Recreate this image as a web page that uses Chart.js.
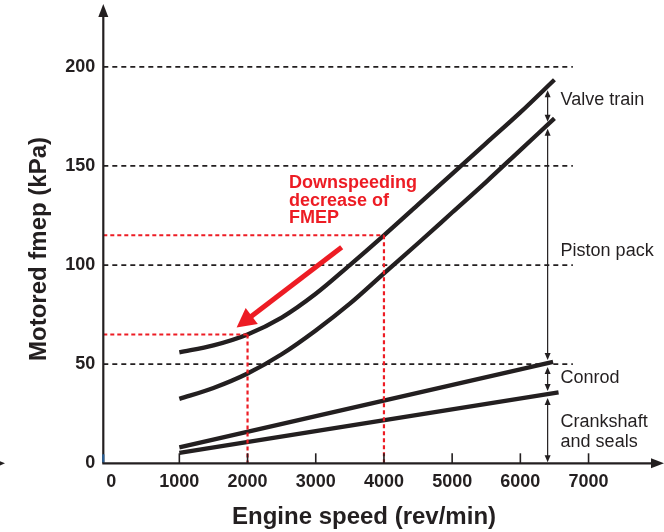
<!DOCTYPE html>
<html><head><meta charset="utf-8">
<style>html,body{margin:0;padding:0;background:#fff;}#wrap{width:664px;height:532px;}</style>
<script src="https://cdn.jsdelivr.net/npm/chart.js@4/dist/chart.umd.min.js"></script>
</head><body><div id="wrap"><canvas id="c" width="664" height="532"></canvas></div>
<script>
// ---- data ----
const rpm = [1000,1500,2000,2500,3000,3500,4000,4500,5000,5500,6000,6500];
const totalFmep = [56,59.5,65,73.5,85.5,100,115,130.5,146,161.5,177,193.5];
const withoutValveTrain = [32.5,38,45.3,55,67,80.5,95.8,111,126.5,142,158,174];
const conrodRpm = [1000,6480];
const conrodFmep = [8,51.2];
const crankRpm = [1000,6560];
const crankFmep = [5.3,35.8];
const xTicks = [0,1000,2000,3000,4000,5000,6000,7000];
const yTicks = [0,50,100,150,200];
const gridLevels = [50,100,150,200];
const downspeedRpm = [2000,4000];
const downspeedFmep = [65,115];
const componentLabels = ['Valve train','Piston pack','Conrod','Crankshaft','and seals'];
const componentLabelLevels = [180.8,104.6,40.4,18.5,8.4];
const annotationLines = ['Downspeeding','decrease of','FMEP'];

// ---- layout constants ----
const X_MIN = -115, X_MAX = 7530, Y_MIN = 0, Y_MAX = 216.2;
const GRID_END = 6770, ARROW_RPM = 6400, LABEL_RPM = 6590;
const NOTE_RPM = 2608, NOTE_LEVEL = 138.7;
const RED_FROM = [3380,109], RED_TO = [1840,68.5];
const BLACK = '#231f20', RED = '#ed1c24';
const FONT = "'Liberation Sans', Arial, Helvetica, sans-serif";
Chart.defaults.font.family = FONT;

function interp(xs, ys, v){
  for (let i=0;i<xs.length-1;i++){
    if (v>=xs[i] && v<=xs[i+1]) return ys[i]+(ys[i+1]-ys[i])*(v-xs[i])/(xs[i+1]-xs[i]);
  }
  return v<xs[0]?ys[0]:ys[ys.length-1];
}
const pts = (xs, ys) => xs.map((x,i)=>({x, y: ys[i]}));

const datasets = [];
const curve = (data) => ({data, borderColor:BLACK, borderWidth:4.3, pointRadius:0, fill:false,
  cubicInterpolationMode:'monotone', borderCapStyle:'butt', borderJoinStyle:'round', order:1});
datasets.push(curve(pts(rpm,totalFmep)));
datasets.push(curve(pts(rpm,withoutValveTrain)));
datasets.push(curve(pts(conrodRpm,conrodFmep)));
datasets.push(curve(pts(crankRpm,crankFmep)));
gridLevels.forEach(l => datasets.push({data:[{x:X_MIN,y:l},{x:GRID_END,y:l}], borderColor:BLACK,
  borderWidth:1.8, borderDash:[5,4], pointRadius:0, order:3}));
downspeedRpm.forEach((r,i) => {
  const f = downspeedFmep[i];
  datasets.push({data:[{x:X_MIN,y:f},{x:r,y:f}], borderColor:RED, borderWidth:2, borderDash:[4,3], pointRadius:0, order:0});
  datasets.push({data:[{x:r,y:f},{x:r,y:0}], borderColor:RED, borderWidth:2.2, borderDash:[4,3], pointRadius:0, order:0});
});

function head(ctx, tx, ty, ang, len, hw){
  ctx.beginPath();
  ctx.moveTo(tx,ty);
  ctx.lineTo(tx - len*Math.cos(ang) + hw*Math.sin(ang), ty - len*Math.sin(ang) - hw*Math.cos(ang));
  ctx.lineTo(tx - len*Math.cos(ang) - hw*Math.sin(ang), ty - len*Math.sin(ang) + hw*Math.cos(ang));
  ctx.closePath(); ctx.fill();
}

const deco = {
  id:'deco',
  afterDraw(chart){
    const {ctx, scales:{x,y}, chartArea:ca} = chart;
    ctx.save();
    ctx.strokeStyle = BLACK; ctx.fillStyle = BLACK;
    // x-axis ticks (inward)
    ctx.lineWidth = 1.6;
    xTicks.forEach(v => { if (v===0) return; const px = x.getPixelForValue(v);
      ctx.beginPath(); ctx.moveTo(px, ca.bottom); ctx.lineTo(px, ca.bottom-10); ctx.stroke(); });
    // axes
    ctx.lineWidth = 2.2;
    ctx.beginPath(); ctx.moveTo(ca.left, ca.bottom); ctx.lineTo(ca.left, 16); ctx.stroke();
    head(ctx, ca.left, 4, -Math.PI/2, 13, 5);
    ctx.beginPath(); ctx.moveTo(ca.left-1, ca.bottom); ctx.lineTo(652, ca.bottom); ctx.stroke();
    head(ctx, 664, ca.bottom, 0, 13, 5);
    // small blue mark at origin
    ctx.strokeStyle = '#2a5f96'; ctx.beginPath(); ctx.moveTo(ca.left, ca.bottom-9); ctx.lineTo(ca.left, ca.bottom-1); ctx.stroke();
    // stray arrowhead at far left
    ctx.fillStyle = BLACK; head(ctx, 5, ca.bottom, 0, 6, 2.5);
    // component double arrows
    const levels = [interp(rpm,totalFmep,ARROW_RPM), interp(rpm,withoutValveTrain,ARROW_RPM),
      interp(conrodRpm,conrodFmep,ARROW_RPM), interp(crankRpm,crankFmep,ARROW_RPM), 0];
    const ax = x.getPixelForValue(ARROW_RPM);
    ctx.strokeStyle = BLACK; ctx.lineWidth = 1.2;
    for (let i=0;i<levels.length-1;i++){
      const y1 = y.getPixelForValue(levels[i]) + 4;
      const y2 = y.getPixelForValue(levels[i+1]) - (i===levels.length-2 ? 1 : 3);
      ctx.beginPath(); ctx.moveTo(ax, y1+5); ctx.lineTo(ax, y2-5); ctx.stroke();
      head(ctx, ax, y1, -Math.PI/2, 7, 3);
      head(ctx, ax, y2, Math.PI/2, 7, 3);
    }
    // component labels
    ctx.font = '18px ' + FONT; ctx.textAlign = 'left'; ctx.textBaseline = 'alphabetic';
    const lx = x.getPixelForValue(LABEL_RPM);
    componentLabels.forEach((t,i) => ctx.fillText(t, lx, y.getPixelForValue(componentLabelLevels[i])));
    // red annotation arrow
    ctx.strokeStyle = RED; ctx.fillStyle = RED;
    const sx = x.getPixelForValue(RED_FROM[0]), sy = y.getPixelForValue(RED_FROM[1]);
    const tx = x.getPixelForValue(RED_TO[0]), ty = y.getPixelForValue(RED_TO[1]);
    const ang = Math.atan2(ty-sy, tx-sx);
    const hl = 19;
    ctx.lineWidth = 5; ctx.lineCap = 'butt';
    ctx.beginPath(); ctx.moveTo(sx, sy); ctx.lineTo(tx - (hl-2)*Math.cos(ang), ty - (hl-2)*Math.sin(ang)); ctx.stroke();
    head(ctx, tx, ty, ang, hl, 10);
    // red annotation text
    ctx.font = 'bold 18px ' + FONT;
    const nx = x.getPixelForValue(NOTE_RPM), ny = y.getPixelForValue(NOTE_LEVEL);
    annotationLines.forEach((t,i) => ctx.fillText(t, nx, ny + i*17.5));
    ctx.restore();
  }
};

new Chart(document.getElementById('c'), {
  type:'line',
  data:{datasets},
  plugins:[deco],
  options:{
    responsive:false, animation:false, devicePixelRatio:1,
    layout:{padding:{top:34.7, right:39.3, left:0, bottom:0}},
    plugins:{legend:{display:false}, tooltip:{enabled:false}},
    elements:{line:{tension:0}},
    scales:{
      x:{type:'linear', position:'bottom', min:X_MIN, max:X_MAX,
        afterBuildTicks:s=>{ s.ticks = xTicks.map(v=>({value:v})); },
        afterFit:s=>{ s.height = 68.7; },
        grid:{display:false, drawTicks:false}, border:{display:false},
        ticks:{padding:7.5, color:BLACK, font:{size:18, weight:'bold'}, maxRotation:0, autoSkip:false, callback:v=>String(v)},
        title:{display:true, text:'Engine speed (rev/min)', color:BLACK, font:{size:24, weight:'bold'}, padding:{top:0, bottom:0.6}}},
      y:{type:'linear', position:'left', min:Y_MIN, max:Y_MAX,
        afterBuildTicks:s=>{ s.ticks = yTicks.map(v=>({value:v})); },
        afterFit:s=>{ s.width = 103.3; },
        grid:{display:false, drawTicks:false}, border:{display:false},
        ticks:{padding:8, color:BLACK, font:{size:18, weight:'bold'}, autoSkip:false, callback:v=>String(v)},
        title:{display:true, text:'Motored fmep (kPa)', color:BLACK, font:{size:24, weight:'bold'}, padding:{top:24.8, bottom:0}}}
    }
  }
});
</script></body></html>
